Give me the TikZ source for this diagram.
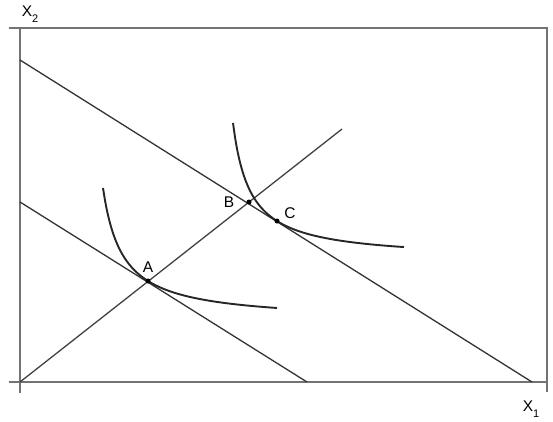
\documentclass[tikz,border=0pt]{standalone}
\usepackage{fontspec}
\setmainfont{Liberation Sans}
\usepackage{tikz}
\usetikzlibrary{positioning}
\newcommand{\sub}[1]{\raisebox{-0.35em}{\fontsize{11}{12}\selectfont#1}}

\begin{document}
\begin{tikzpicture}[
  x=1pt, y=-1pt,
  font=\fontsize{15.5}{17}\selectfont,
  frame/.style={draw=black!55, line width=1.7pt},
  budget/.style={draw=black!80, line width=1.3pt},
  ray/.style={draw=black!75, line width=1.3pt},
  indiff/.style={draw=black!85, line width=1.9pt, smooth},
  pt/.style={circle, fill=black, inner sep=0pt, minimum size=5pt},
  lbl/.style={inner sep=1pt}
]
\useasboundingbox (0,0) rectangle (553,421);

% frame and axes
\coordinate (TL) at (20,28);
\coordinate (TR) at (547,28);
\coordinate (BL) at (20,382);
\coordinate (BR) at (547,382);
\draw[frame] (9,28) -- (TR) -- (547,392);
\draw[frame] (9,382) -- (BR);
\draw[frame] (TL) -- (20,393);
\node[lbl] (x2) at (30,14) {X\sub{2}};
\node[lbl] (x1) at (531,409) {X\sub{1}};

% budget lines and expansion path
\coordinate (O) at (BL);
\coordinate (P1) at (20,60);
\coordinate (Q1) at (532,382);
\coordinate (P0) at (20,202);
\coordinate (Q0) at (307,382);
\coordinate (R) at (342,129);
\draw[budget] (P1) -- (Q1);
\draw[budget] (P0) -- (Q0);
\draw[ray] (O) -- (R);

% indifference curves
\draw[indiff] plot[domain=103:277, samples=80] (\x,{321.5-2617/(\x-83.4)});
\draw[indiff] plot[domain=233:404, samples=80] (\x,{259.6-2364/(\x-215.7)});

% points
\node[pt] (A) at (148,281) {};
\node[pt] (B) at (249,202) {};
\node[pt] (C) at (277,221) {};
\node[lbl] (la) at (148,267) {A};
\node[lbl] (lb) at (229,202) {B};
\node[lbl] (lc) at (290,213) {C};
\end{tikzpicture}
\end{document}
